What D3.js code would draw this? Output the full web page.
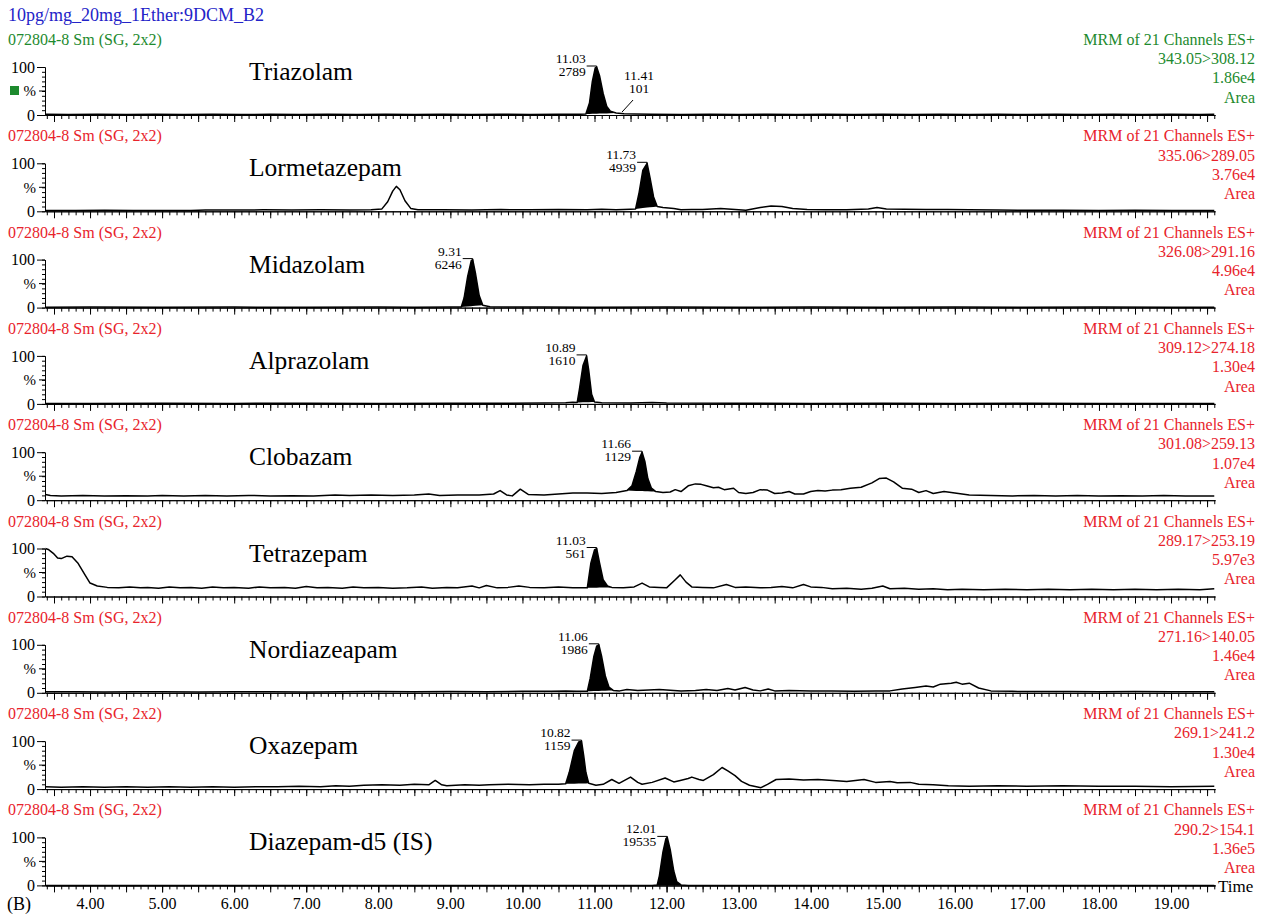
<!DOCTYPE html>
<html>
<head>
<meta charset="utf-8">
<script src="https://cdn.jsdelivr.net/npm/d3@7"></script>
<style>
    body { margin: 0; background: #fff; }
    svg { display: block; font-family: "Liberation Serif", "Times New Roman", serif; }
</style>
</head>
<body>
<div id="chart"></div>
<script>
const sampleTitle = "10pg/mg_20mg_1Ether:9DCM_B2";
const smoothLabel = "072804-8 Sm (SG, 2x2)";
const mrmLabel = "MRM of 21 Channels ES+";

const compounds = ["Triazolam", "Lormetazepam", "Midazolam", "Alprazolam", "Clobazam",
                   "Tetrazepam", "Nordiazeapam", "Oxazepam", "Diazepam-d5 (IS)"];
const transitions = ["343.05>308.12", "335.06>289.05", "326.08>291.16", "309.12>274.18", "301.08>259.13",
                     "289.17>253.19", "271.16>140.05", "269.1>241.2", "290.2>154.1"];
const intensities = ["1.86e4", "3.76e4", "4.96e4", "1.30e4", "1.07e4", "5.97e3", "1.46e4", "1.30e4", "1.36e5"];
const peakTimes = [11.03, 11.73, 9.31, 10.89, 11.66, 11.03, 11.06, 10.82, 12.01];
const peakAreas = [2789, 4939, 6246, 1610, 1129, 561, 1986, 1159, 19535];
const peakWindows = [[10.88, 11.3], [11.57, 11.87], [9.15, 9.45], [10.76, 11.0], [11.45, 11.85],
                     [10.9, 11.24], [10.9, 11.26], [10.6, 10.92], [11.87, 12.2]];
const minorPeak = { panel: 0, t: 11.41, time: "11.41", area: "101" };
const xTickValues = [4, 5, 6, 7, 8, 9, 10, 11, 12, 13, 14, 15, 16, 17, 18, 19];

// [time (min), relative intensity (%)]
const triazolam = [[3.38,1.5],[3.7,1],[4.1,1.5],[4.5,1],[4.9,1.5],[5.3,1],[5.7,1.5],[6.1,1],[6.5,1.5],[6.9,1],
    [7.3,1.5],[7.7,1],[8.1,1.5],[8.5,1],[8.9,1.5],[9.3,1],[9.7,1.5],[10.1,1],[10.5,1.5],[10.8,1.5],[10.88,2],
    [10.93,25],[10.97,70],[11.01,98],[11.03,100],[11.07,82],[11.12,45],[11.17,18],[11.22,8],[11.3,4],[11.41,2.5],
    [11.55,2],[11.8,1.5],[12.2,1],[12.6,1.5],[13.0,1],[13.4,1.5],[13.8,1],[14.2,1.5],[14.6,1],[15.0,1.5],[15.4,1],
    [15.8,1.5],[16.2,1],[16.6,1.5],[17.0,1],[17.4,1.5],[17.8,1],[18.2,1.5],[18.6,1],[19.0,1.5],[19.4,1],[19.6,1.5]];
const lormetazepam = [[3.38,1.5],[3.8,1.5],[4.2,2],[4.6,1.5],[5.0,1.5],[5.4,1.5],[5.6,2.5],[6.0,2.5],[6.4,3],
    [6.8,2.5],[7.2,3],[7.6,2.5],[7.9,3],[8.05,5],[8.13,20],[8.2,42],[8.25,52],[8.3,45],[8.37,22],[8.45,6],[8.55,3],
    [8.9,3],[9.3,2.5],[9.7,3.5],[10.1,3],[10.5,4],[10.9,3],[11.1,4.5],[11.3,3],[11.5,4.5],[11.57,5],[11.62,40],
    [11.67,85],[11.73,100],[11.77,70],[11.82,30],[11.87,10],[11.95,8],[12.1,6],[12.2,3],[12.35,4],[12.5,4],
    [12.75,6],[12.95,4],[13.1,2],[13.3,8],[13.45,11],[13.6,10],[13.75,6],[13.95,4],[14.2,3],[14.5,3],[14.8,5],
    [14.92,8],[15.05,5],[15.3,4.5],[15.6,4],[15.9,3.5],[16.2,3],[16.6,2.5],[17.0,2],[17.5,2],[18.0,1.5],[18.5,2],
    [19.0,1.5],[19.6,1.5]];
const midazolam = [[3.38,0.5],[4.0,1],[5.0,0.5],[6.0,1],[7.0,0.5],[8.0,1],[8.5,0.5],[9.0,1],[9.15,1],[9.19,20],
    [9.24,65],[9.29,98],[9.31,100],[9.35,70],[9.4,25],[9.45,5],[9.55,2],[9.8,1.5],[10.3,1],[11.0,0.5],[12.0,1],
    [13.0,0.5],[14.0,1],[15.0,0.5],[16.0,1],[17.0,0.5],[18.0,1],[19.0,0.5],[19.6,0.5]];
const alprazolam = [[3.38,1],[4.0,1],[5.0,1.5],[6.0,1],[7.0,1.5],[8.0,1],[9.0,1.5],[9.8,1.5],[10.3,2],[10.6,2.5],
    [10.7,3.5],[10.76,3],[10.79,30],[10.84,80],[10.89,100],[10.92,70],[10.96,20],[11.0,4],[11.1,2.5],[11.5,2],
    [11.8,3],[12.0,2],[13.0,1.5],[14.0,1],[15.0,1.5],[16.0,1],[17.0,1.5],[18.0,1],[19.0,1],[19.6,1]];
const clobazam = [[3.38,12],[3.45,10],[3.6,9],[3.9,10],[4.2,9],[4.5,9.5],[4.8,9],[5.0,10],[5.3,9],[5.6,10],
    [5.9,9],[6.2,10],[6.5,9],[6.8,9.5],[7.1,9],[7.4,11],[7.6,10],[7.9,11],[8.2,10],[8.5,11],[8.7,13],[8.85,10],
    [9.1,11],[9.4,11],[9.6,13],[9.69,20],[9.78,11],[9.86,9],[9.97,23],[10.08,12],[10.3,11],[10.5,13],[10.7,15],
    [10.9,15],[11.1,14],[11.3,16],[11.45,20],[11.52,30],[11.58,60],[11.63,90],[11.66,100],[11.7,80],[11.74,45],
    [11.79,25],[11.85,18],[11.95,16],[12.05,17],[12.12,22],[12.2,18],[12.3,30],[12.4,34],[12.48,33],[12.55,30],
    [12.65,26],[12.72,27],[12.8,22],[12.93,25],[13.0,16],[13.1,14],[13.2,16],[13.3,22],[13.4,21],[13.5,14],
    [13.6,15],[13.7,18],[13.78,13],[13.9,13],[14.0,18],[14.1,20],[14.2,19],[14.3,21],[14.42,22],[14.55,25],
    [14.7,27],[14.85,36],[14.95,45],[15.05,46],[15.15,38],[15.27,25],[15.4,23],[15.5,16],[15.6,20],[15.7,14],
    [15.85,18],[16.0,15],[16.2,11],[16.5,10],[16.8,9],[17.1,10],[17.4,9],[17.7,10],[18.0,9],[18.3,9.5],[18.6,9],
    [18.9,10],[19.2,9],[19.6,9]];
const tetrazepam = [[3.38,100],[3.42,98],[3.49,90],[3.55,80],[3.6,79],[3.68,84],[3.75,83],[3.83,70],[3.93,45],
    [4.0,28],[4.1,22],[4.24,19],[4.4,18],[4.55,20],[4.7,18],[4.8,19],[4.95,17],[5.1,20],[5.25,18],[5.4,19],
    [5.55,17],[5.7,20],[5.85,18],[6.0,19],[6.2,17],[6.35,20],[6.5,18],[6.7,19],[6.85,17],[7.0,21],[7.15,18],
    [7.3,19],[7.5,17],[7.65,20],[7.8,18],[8.0,19],[8.2,17],[8.4,18],[8.6,20],[8.75,17],[8.95,19],[9.1,18],
    [9.3,22],[9.4,18],[9.5,23],[9.65,18],[9.8,19],[9.95,22],[10.1,19],[10.3,18],[10.5,20],[10.7,18],[10.9,18],
    [10.95,70],[11.0,97],[11.03,100],[11.07,70],[11.12,35],[11.18,22],[11.24,19],[11.4,18],[11.55,20],[11.66,28],
    [11.76,20],[11.9,19],[12.0,18],[12.12,35],[12.19,45],[12.27,30],[12.35,20],[12.5,19],[12.65,18],[12.83,25],
    [12.95,19],[13.1,20],[13.3,18],[13.45,19],[13.6,21],[13.75,18],[13.9,25],[14.0,20],[14.15,19],[14.3,16],
    [14.5,17],[14.7,15],[14.85,17],[15.0,22],[15.1,16],[15.3,17],[15.5,15],[15.7,16],[15.9,14],[16.1,15],
    [16.4,14],[16.7,15],[17.0,14],[17.3,15],[17.6,14],[17.9,15],[18.2,14],[18.5,15],[18.8,14],[19.1,15],
    [19.4,14],[19.6,16]];
const nordiazepam = [[3.38,2],[3.8,2],[4.2,1.5],[4.6,2],[5.0,2],[5.5,1.5],[6.0,2],[6.5,2],[7.0,1.5],[7.5,2],
    [8.0,2.5],[8.5,2],[9.0,2.5],[9.5,2],[10.0,3],[10.4,3],[10.6,4],[10.75,3],[10.9,3],[10.94,30],[10.99,75],
    [11.03,97],[11.06,100],[11.1,75],[11.15,35],[11.2,12],[11.26,5],[11.35,4],[11.45,7],[11.6,5],[11.75,6],
    [11.9,7],[12.0,6],[12.2,4],[12.4,5],[12.55,7],[12.7,5],[12.85,9],[12.95,6],[13.09,11],[13.2,6],[13.3,4],
    [13.41,8],[13.5,4],[13.7,5],[14.0,4],[14.3,3.5],[14.6,3],[14.9,3.5],[15.1,4],[15.27,8],[15.45,11],[15.6,14],
    [15.7,12],[15.8,18],[15.95,20],[16.02,22],[16.1,18],[16.2,20],[16.33,10],[16.5,4],[16.8,3],[17.2,2.5],
    [17.6,2.5],[18.0,2],[18.5,2.5],[19.0,2],[19.6,2]];
const oxazepam = [[3.38,5],[3.6,4],[3.9,5],[4.2,4],[4.5,5],[4.8,4],[5.1,5],[5.4,4],[5.7,5],[6.0,4],[6.3,5],
    [6.6,5],[6.9,6],[7.2,5],[7.41,7],[7.6,6],[7.8,8],[8.05,9],[8.3,8],[8.5,10],[8.7,9],[8.79,18],[8.88,9],[8.95,7],
    [9.2,9],[9.4,8],[9.54,9],[9.8,10],[10.1,9],[10.3,10],[10.5,10],[10.6,11],[10.65,35],[10.72,80],[10.78,98],
    [10.82,100],[10.85,70],[10.88,35],[10.92,12],[11.02,8],[11.12,10],[11.24,20],[11.34,12],[11.5,25],[11.6,14],
    [11.66,10],[11.8,14],[11.98,23],[12.1,15],[12.19,18],[12.3,22],[12.35,25],[12.45,20],[12.51,18],[12.65,30],
    [12.77,45],[12.85,38],[12.95,28],[13.04,16],[13.15,8],[13.31,3],[13.4,10],[13.52,20],[13.7,21],[13.9,19],
    [14.1,20],[14.31,18],[14.5,16],[14.74,20],[14.9,14],[15.1,16],[15.2,13],[15.38,14],[15.5,10],[15.7,9],
    [15.91,7],[16.2,6],[16.6,7],[17.0,6],[17.5,7],[18.0,6],[18.5,6],[19.0,5],[19.6,6]];
const diazepamD5 = [[3.38,0],[11.8,0],[11.87,1],[11.9,20],[11.95,70],[11.99,97],[12.01,100],[12.05,75],
    [12.1,30],[12.14,8],[12.2,1],[12.3,0],[19.6,0]];

const traces = [triazolam, lormetazepam, midazolam, alprazolam, clobazam, tetrazepam, nordiazepam, oxazepam, diazepamD5];

const GREEN = "#1d8a2e", RED = "#e8232b", BLUE = "#2323c8";

function drawChart() {
    const width = 1265, height = 914;
    const pitch = 96.3, firstTop = 67, panelHeight = 48;

    const svg = d3.select("#chart").append("svg")
        .attr("width", width)
        .attr("height", height);

    const x = d3.scaleLinear().domain([3.375, 19.61]).range([45, 1215]);

    svg.append("text")
        .attr("x", 8).attr("y", 21)
        .attr("fill", BLUE)
        .style("font-size", "18px")
        .text(sampleTitle);

    const minorTicks = d3.range(34, 197).map(d => d / 10);
    const halfTicks = d3.range(7, 40).map(d => d / 2);

    compounds.forEach(function (name, i) {
        const top = firstTop + i * pitch;
        const y = d3.scaleLinear().domain([0, 100]).range([top + panelHeight, top]);
        const colour = i === 0 ? GREEN : RED;
        const g = svg.append("g").attr("class", "panel");
        const trace = traces[i];
        const last = i === compounds.length - 1;

        g.append("text")
            .attr("x", 8).attr("y", top - 22)
            .attr("fill", colour)
            .style("font-size", "16px")
            .text(smoothLabel);

        [mrmLabel, transitions[i], intensities[i], "Area"].forEach(function (t, k) {
            g.append("text")
                .attr("x", 1255).attr("y", top - 22 + k * 19.2)
                .attr("text-anchor", "end")
                .attr("fill", colour)
                .style("font-size", "16px")
                .text(t);
        });

        g.append("text")
            .attr("x", 249).attr("y", top + 13)
            .style("font-size", "25.5px")
            .text(name);

        // integrated peak, filled down to the line joining its start and end
        const win = peakWindows[i];
        const seg = trace.filter(d => d[0] >= win[0] && d[0] <= win[1]);
        const s0 = seg[0], s1 = seg[seg.length - 1];
        const base = t => s0[1] + (s1[1] - s0[1]) * (t - s0[0]) / (s1[0] - s0[0]);
        g.append("path")
            .datum(seg)
            .attr("fill", "#000")
            .attr("d", d3.area()
                .x(d => x(d[0]))
                .y0(d => y(base(d[0])))
                .y1(d => y(d[1])));

        g.append("path")
            .datum(trace)
            .attr("fill", "none")
            .attr("stroke", "#000")
            .attr("stroke-width", 1.5)
            .attr("stroke-linejoin", "round")
            .attr("d", d3.line().x(d => x(d[0])).y(d => y(d[1])));

        // y axis
        g.append("g")
            .attr("transform", "translate(45,0)")
            .call(d3.axisLeft(y).tickValues(d3.range(0, 101, 10)).tickSize(3).tickSizeOuter(0).tickFormat(""));
        g.append("g")
            .attr("class", "y axis")
            .attr("transform", "translate(45,0)")
            .call(d3.axisLeft(y).tickValues([0, 100]).tickSize(8).tickSizeOuter(0).tickPadding(2))
            .attr("font-size", 16)
            .attr("font-family", null);
        g.append("line")
            .attr("x1", 39).attr("x2", 45)
            .attr("y1", y(50)).attr("y2", y(50))
            .attr("stroke", "#000");
        g.append("text")
            .attr("x", 36).attr("y", y(50))
            .attr("dy", "0.35em")
            .attr("text-anchor", "end")
            .style("font-size", "15px")
            .text("%");
        if (i === 0) {
            g.append("rect")
                .attr("x", 10).attr("y", y(50) - 5)
                .attr("width", 9).attr("height", 9)
                .attr("fill", GREEN);
        }

        // x axis
        const y0 = y(0);
        g.append("g")
            .attr("transform", "translate(0," + y0 + ")")
            .call(d3.axisBottom(x).tickValues(minorTicks).tickSize(4).tickSizeOuter(0).tickFormat(""));
        g.append("g")
            .attr("transform", "translate(0," + y0 + ")")
            .call(d3.axisBottom(x).tickValues(halfTicks).tickSize(7).tickSizeOuter(0).tickFormat(""));
        if (last) {
            g.append("g")
                .attr("class", "x axis")
                .attr("transform", "translate(0," + y0 + ")")
                .call(d3.axisBottom(x).tickValues(xTickValues).tickSize(7).tickSizeOuter(0)
                    .tickPadding(5).tickFormat(d3.format(".2f")))
                .attr("font-size", 16)
                .attr("font-family", null);
        }

        // peak label
        const px = x(peakTimes[i]), py = y(100);
        g.append("path")
            .attr("d", "M" + (px - 10) + "," + (py - 1) + "H" + px + "V" + (py + 3))
            .attr("fill", "none")
            .attr("stroke", "#000");
        g.append("text")
            .attr("x", px - 11).attr("y", py - 4)
            .attr("text-anchor", "end")
            .style("font-size", "13.5px")
            .text(peakTimes[i].toFixed(2));
        g.append("text")
            .attr("x", px - 11).attr("y", py + 9)
            .attr("text-anchor", "end")
            .style("font-size", "13.5px")
            .text(peakAreas[i]);

        if (i === minorPeak.panel) {
            const mx = x(minorPeak.t);
            g.append("line")
                .attr("x1", mx - 2).attr("y1", y0 - 3)
                .attr("x2", mx + 9).attr("y2", py + 33)
                .attr("stroke", "#000");
            g.append("text")
                .attr("x", mx + 15).attr("y", py + 13)
                .attr("text-anchor", "middle")
                .style("font-size", "13.5px")
                .text(minorPeak.time);
            g.append("text")
                .attr("x", mx + 15).attr("y", py + 26)
                .attr("text-anchor", "middle")
                .style("font-size", "13.5px")
                .text(minorPeak.area);
        }
    });

    svg.append("text")
        .attr("x", 7).attr("y", 909.8)
        .style("font-size", "18px")
        .text("(B)");
    svg.append("text")
        .attr("x", 1218).attr("y", 892)
        .style("font-size", "17px")
        .text("Time");
}

drawChart();
</script>
</body>
</html>
